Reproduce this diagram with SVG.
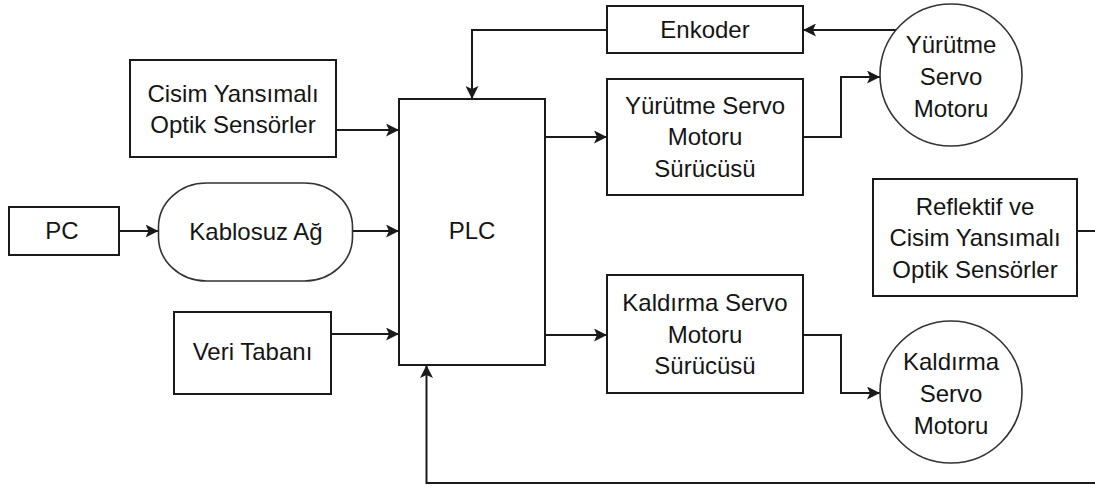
<svg xmlns="http://www.w3.org/2000/svg" width="1095" height="486" viewBox="0 0 1095 486">
<style>
.box{fill:#fff;stroke:#1a1a1a;stroke-width:2}
.circ{fill:#fff;stroke:#333;stroke-width:1.6}
.ln{fill:none;stroke:#1a1a1a;stroke-width:2}
text{font-family:"Liberation Sans",Arial,sans-serif;font-size:24px;fill:#151515;text-anchor:middle}
</style>
<defs>
<marker id="ah" markerUnits="userSpaceOnUse" markerWidth="14" markerHeight="13" refX="13" refY="6.5" orient="auto">
<path d="M0,0 L13,6.5 L0,13 L3,6.5 z" fill="#1a1a1a"/>
</marker>
</defs>
<rect width="1095" height="486" fill="#fff"/>
<g id="connectors">
<path class="ln" d="M336,130 H399" marker-end="url(#ah)"/>
<path class="ln" d="M119,231 H158.5" marker-end="url(#ah)"/>
<path class="ln" d="M352.5,231 H399" marker-end="url(#ah)"/>
<path class="ln" d="M331,334 H399" marker-end="url(#ah)"/>
<path class="ln" d="M545,137 H607" marker-end="url(#ah)"/>
<path class="ln" d="M545,335 H607" marker-end="url(#ah)"/>
<path class="ln" d="M803,137 H841 V77 H880" marker-end="url(#ah)"/>
<path class="ln" d="M803,335 H841 V393 H880" marker-end="url(#ah)"/>
<path class="ln" d="M896,30 H803" marker-end="url(#ah)"/>
<path class="ln" d="M607,30 H472 V99" marker-end="url(#ah)"/>
<path class="ln" d="M1077,231 H1095"/>
<path class="ln" d="M1095,483 H426.5 V365" marker-end="url(#ah)"/>
</g>
<g id="pc">
<rect class="box" x="9" y="207" width="110" height="48"/>
<text x="62" y="238.5">PC</text>
</g>
<g id="kablosuz">
<rect class="circ" x="158.5" y="183" width="194" height="98" rx="48" ry="44"/>
<text x="256" y="240">Kablosuz Ağ</text>
</g>
<g id="cisim">
<rect class="box" x="130" y="60" width="206" height="97"/>
<text x="233" y="101.5">Cisim Yansımalı</text>
<text x="233" y="133">Optik Sensörler</text>
</g>
<g id="veri">
<rect class="box" x="174" y="312" width="157" height="82"/>
<text x="252.5" y="360">Veri Tabanı</text>
</g>
<g id="plc">
<rect class="box" x="399" y="99" width="146" height="266"/>
<text x="472" y="239">PLC</text>
</g>
<g id="enkoder">
<rect class="box" x="607" y="6" width="196" height="47"/>
<text x="705" y="38">Enkoder</text>
</g>
<g id="yurutme-surucu">
<rect class="box" x="607" y="79" width="196" height="116"/>
<text x="705" y="113.5">Yürütme Servo</text>
<text x="705" y="145">Motoru</text>
<text x="705" y="176.5">Sürücüsü</text>
</g>
<g id="kaldirma-surucu">
<rect class="box" x="607" y="275" width="196" height="118"/>
<text x="705" y="311">Kaldırma Servo</text>
<text x="705" y="342.5">Motoru</text>
<text x="705" y="374">Sürücüsü</text>
</g>
<g id="yurutme-motor">
<circle class="circ" cx="951" cy="75" r="71"/>
<text x="951" y="53">Yürütme</text>
<text x="951" y="85">Servo</text>
<text x="951" y="116.5">Motoru</text>
</g>
<g id="kaldirma-motor">
<circle class="circ" cx="951" cy="392" r="71"/>
<text x="951" y="370">Kaldırma</text>
<text x="951" y="402">Servo</text>
<text x="951" y="433.5">Motoru</text>
</g>
<g id="reflektif">
<rect class="box" x="873" y="179" width="204" height="117"/>
<text x="975" y="214.5">Reflektif ve</text>
<text x="975" y="246">Cisim Yansımalı</text>
<text x="975" y="277.5">Optik Sensörler</text>
</g>
</svg>
